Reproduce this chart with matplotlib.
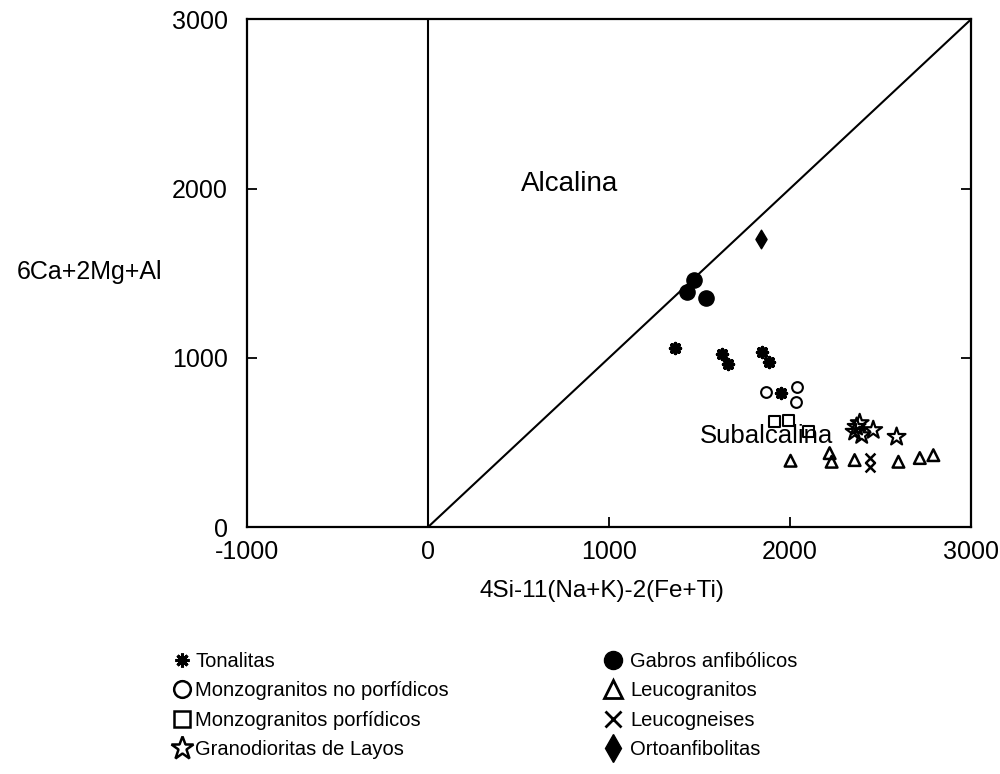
import numpy as np
import matplotlib
matplotlib.use('Agg')
import matplotlib.pyplot as plt
from matplotlib.lines import Line2D

plt.rcParams['font.family'] = ['Liberation Sans', 'DejaVu Sans']
plt.rcParams['axes.unicode_minus'] = False

tonalitas_x = [1367, 1627, 1658, 1846, 1883, 1953]
tonalitas_y = [1061, 1022, 961, 1036, 973, 790]

gabros_x = [1470, 1433, 1534]
gabros_y = [1459, 1390, 1351]

monzo_np_x = [1870, 2036, 2032]
monzo_np_y = [799, 829, 740]

monzo_p_x = [1916, 1990, 2100]
monzo_p_y = [622, 632, 563]

layos_x = [2368, 2396, 2357, 2385, 2460, 2589]
layos_y = [592, 543, 563, 614, 573, 533]

leucogranitos_x = [2003, 2219, 2230, 2357, 2599, 2717, 2792]
leucogranitos_y = [392, 437, 386, 396, 386, 408, 425]

leucogneises_x = [2440, 2440]
leucogneises_y = [408, 356]

ortoanf_x = [1840]
ortoanf_y = [1700]

fig = plt.figure(figsize=(10, 7.74), dpi=100)
ax = fig.add_axes([0.247, 0.319, 0.724, 0.656])

# líneas divisorias
ax.plot([0, 0], [0, 3000], color='black', lw=1.5)
ax.plot([0, 3000], [0, 3000], color='black', lw=1.5)

ast = (8, 2, 0)
ax.scatter(tonalitas_x, tonalitas_y, marker=ast, s=50, color='black', linewidths=2.6, zorder=3)
ax.scatter(gabros_x, gabros_y, marker='o', s=120, color='black', zorder=3)
ax.scatter(monzo_np_x, monzo_np_y, marker='o', s=60, facecolors='white', edgecolors='black', linewidths=1.5, zorder=3)
ax.scatter(monzo_p_x, monzo_p_y, marker='s', s=65, facecolors='none', edgecolors='black', linewidths=1.5, zorder=3)
ax.scatter(layos_x, layos_y, marker='*', s=180, facecolors='none', edgecolors='black', linewidths=1.6, zorder=3)
ax.scatter(leucogranitos_x, leucogranitos_y, marker='^', s=70, facecolors='none', edgecolors='black', linewidths=1.8, zorder=3)
ax.scatter(leucogneises_x, leucogneises_y, marker='x', s=50, color='black', linewidths=1.8, zorder=3)
ax.scatter(ortoanf_x, ortoanf_y, marker='d', s=90, color='black', zorder=3)

ax.text(780, 2026, 'Alcalina', fontsize=20, ha='center', va='center')
ax.text(1870, 538, 'Subalcalina', fontsize=18.5, ha='center', va='center', zorder=2)

ax.set_xlim(-1000, 3000)
ax.set_ylim(0, 3000)
ax.set_xticks([-1000, 0, 1000, 2000, 3000])
ax.set_yticks([0, 1000, 2000, 3000])
ax.tick_params(direction='in', length=7, width=1.3, labelsize=18, right=True)
ax.tick_params(axis='x', pad=9)
ax.tick_params(axis='y', pad=14)
for sp in ax.spines.values():
    sp.set_linewidth(1.6)

fig.text(0.089, 1 - 272 / 774, '6Ca+2Mg+Al', fontsize=18, ha='center', va='center')
fig.text(0.602, 1 - 591 / 774, '4Si-11(Na+K)-2(Fe+Ti)', fontsize=17.5, ha='center', va='center')

# leyenda
handles1 = [
    Line2D([], [], ls='none', marker=ast, ms=10, color='black', mew=2.2),
    Line2D([], [], ls='none', marker='o', ms=12, mfc='white', mec='black', mew=1.8),
    Line2D([], [], ls='none', marker='s', ms=12, mfc='white', mec='black', mew=1.8),
    Line2D([], [], ls='none', marker='*', ms=17, mfc='white', mec='black', mew=1.8),
]
labels1 = ['Tonalitas', 'Monzogranitos no porfídicos', 'Monzogranitos porfídicos', 'Granodioritas de Layos']
handles2 = [
    Line2D([], [], ls='none', marker='o', ms=13, color='black'),
    Line2D([], [], ls='none', marker='^', ms=13, mfc='white', mec='black', mew=2),
    Line2D([], [], ls='none', marker='x', ms=12, color='black', mew=2),
    Line2D([], [], ls='none', marker='d', ms=14, color='black'),
]
labels2 = ['Gabros anfibólicos', 'Leucogranitos', 'Leucogneises', 'Ortoanfibolitas']

lg_font = {'family': ['Liberation Sans'], 'size': 14.5}
fig.legend(handles1, labels1, loc='upper left', bbox_to_anchor=(0.172, 1 - 652 / 774),
           frameon=False, prop=lg_font, handletextpad=0.15, labelspacing=0.52, handlelength=1.0,
           borderaxespad=0, borderpad=0)
fig.legend(handles2, labels2, loc='upper left', bbox_to_anchor=(0.603, 1 - 652 / 774),
           frameon=False, prop=lg_font, handletextpad=0.35, labelspacing=0.52, handlelength=1.0,
           borderaxespad=0, borderpad=0)

fig.savefig('out.png', dpi=100)
